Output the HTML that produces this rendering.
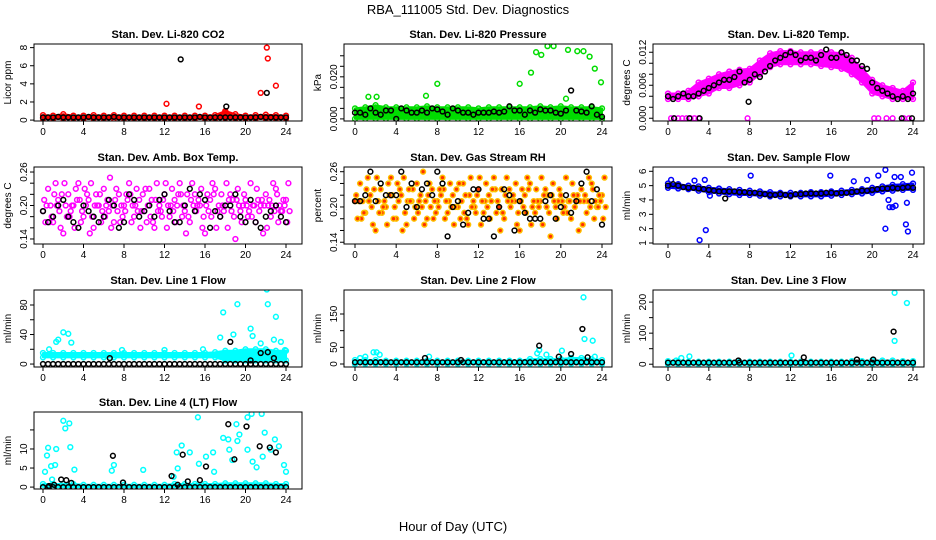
<!DOCTYPE html>
<html><head><meta charset="utf-8">
<style>
html,body{margin:0;padding:0;background:#fff;}
svg{display:block;font-family:"Liberation Sans",Arial,sans-serif;}
.tt{font-size:11px;font-weight:bold;text-anchor:middle;}
.tk{font-size:10px;}
</style></head>
<body>
<svg id="fig" xmlns="http://www.w3.org/2000/svg" width="936" height="540" viewBox="0 0 936 540">
<rect width="936" height="540" fill="#fff"/>
<text x="468" y="14" font-size="13" text-anchor="middle">RBA_111005  Std. Dev. Diagnostics</text>
<text x="453" y="531" font-size="13" text-anchor="middle">Hour of Day (UTC)</text>
</svg>
<script>
// ---------- shared x categories ----------
const hh=[0,0.5,1,1.5,2,2.5,3,3.5,4,4.5,5,5.5,6,6.5,7,7.5,8,8.5,9,9.5,10,10.5,11,11.5,12,12.5,13,13.5,14,14.5,15,15.5,16,16.5,17,17.5,18,18.5,19,19.5,20,20.5,21,21.5,22,22.5,23,23.5,24];
const hw=[0,1,2,3,4,5,6,7,8,9,10,11,12,13,14,15,16,17,18,19,20,21,22,23,24];
const xTicks=[0,4,8,12,16,20,24];

// ---------- P1 CO2 ----------
const co2Lo=[0.15,0.15,0.15,0.15,0.15,0.15,0.15,0.15,0.15,0.15,0.15,0.15,0.15,0.15,0.15,0.15,0.15,0.15,0.2,0.15,0.15,0.15,0.15,0.15,0.15];
const co2Hi=[0.55,0.5,0.65,0.5,0.5,0.55,0.5,0.55,0.5,0.5,0.5,0.5,0.5,0.5,0.5,0.5,0.5,0.55,1.0,0.65,0.5,0.55,0.6,0.55,0.5];
const co2Blk=[0.3,0.3,0.3,0.35,0.3,0.3,0.3,0.3,0.3,0.35,0.3,0.3,0.3,0.3,0.35,0.3,0.3,0.3,0.3,0.3,0.3,0.3,0.3,0.3,0.3,0.3,0.3,0.3,0.3,0.3,0.3,0.35,0.3,0.3,0.3,0.3,0.3,0.3,0.3,0.3,0.3,0.3,0.3,0.35,0.3,0.3,0.3,0.3,0.3];
const co2OutX=[12.2,15.4,18,21.5,22.1,22.2,23];
const co2OutY=[1.8,1.5,0.9,3,8,6.8,3.8];
const co2BOutX=[13.6,18.1,22.1];
const co2BOutY=[6.7,1.5,3];

// ---------- P2 Pressure ----------
const prLo=[0,0,0,0,0,0,0,0,0,0,0,0,0,0,0,0,0,0,0,0,0,0,0,0,0];
const prHi=[0.005,0.0055,0.0065,0.0055,0.0055,0.0055,0.0055,0.006,0.0055,0.0055,0.0055,0.0055,0.005,0.0055,0.0055,0.0055,0.0055,0.0055,0.006,0.0055,0.006,0.0055,0.0055,0.0055,0.005];
const prBlk=[0.003,0.003,0.002,0.005,0.003,0.002,0.004,0.004,0.0,0.005,0.004,0.003,0.003,0.004,0.003,0.005,0.0045,0.0035,0.002,0.005,0.004,0.003,0.003,0.002,0.003,0.003,0.003,0.0035,0.003,0.0035,0.006,0.004,0.004,0.002,0.004,0.003,0.0045,0.004,0.004,0.003,0.0025,0.004,0.0135,0.004,0.0035,0.003,0.006,0.002,0.001];
const prOutX=[1.3,2.1,6.9,8,16,17.1,17.6,18.1,18.7,19.3,20.5,20.7,21.6,22.2,22.8,23.3,23.9];
const prOutY=[0.0105,0.0105,0.011,0.0167,0.0167,0.022,0.0317,0.0304,0.0346,0.0346,0.0096,0.0328,0.0322,0.0322,0.0296,0.0239,0.0174];

// ---------- P3 Temp ----------
const tpLo=[0.0035,0.0035,0.0035,0.004,0.0045,0.0055,0.0055,0.006,0.0065,0.008,0.0093,0.0098,0.0098,0.0098,0.0098,0.0095,0.0093,0.009,0.008,0.0065,0.0045,0.004,0.0035,0.0035,0.0035];
const tpHi=[0.0045,0.0045,0.005,0.0065,0.0072,0.008,0.0085,0.0088,0.009,0.0105,0.0118,0.0122,0.0122,0.012,0.012,0.012,0.012,0.0118,0.011,0.009,0.007,0.006,0.0055,0.005,0.0065];
const tpBlk=[0.004,0.0035,0.004,0.0045,0.004,0.004,0.0045,0.005,0.0055,0.006,0.0065,0.007,0.007,0.0075,0.0085,0.0065,0.007,0.008,0.0075,0.0085,0.0095,0.0105,0.011,0.0115,0.012,0.0115,0.0105,0.011,0.011,0.0105,0.0115,0.0125,0.011,0.011,0.012,0.0115,0.0105,0.0105,0.0095,0.009,0.0065,0.0055,0.005,0.0045,0.004,0.0035,0.004,0.0035,0.0045];
const tpOutX=[0.3,0.6,1,1.4,1.8,2.2,2.6,3,7.8,20.2,20.6,21.4,22,23.1,23.6];
const tpOutY=[0,0,0,0,0,0,0,0,0,0,0,0,0,0,0];
const tpBOutX=[0.6,2.1,3.1,7.9,22.9,23.9];
const tpBOutY=[0,0,0,0.003,0,0];

// ---------- P4 Amb Box Temp ----------
const abA=[0.19,0.23,0.17,0.21,0.15,0.22,0.2,0.24,0.18,0.21,0.16,0.2,0.23,0.19,0.17,0.22,0.2,0.24,0.18,0.21,0.19,0.23,0.16,0.2,0.22,0.18,0.21,0.24,0.19,0.17,0.22,0.2,0.15,0.21,0.23,0.18,0.2,0.22,0.14,0.19,0.21,0.24,0.17,0.2,0.22,0.18,0.23,0.19,0.21];
const abB=[0.21,0.17,0.22,0.19,0.24,0.18,0.16,0.21,0.23,0.15,0.2,0.22,0.18,0.25,0.21,0.17,0.19,0.22,0.2,0.16,0.23,0.18,0.21,0.19,0.24,0.2,0.17,0.22,0.15,0.21,0.19,0.23,0.2,0.18,0.16,0.22,0.24,0.19,0.21,0.17,0.2,0.18,0.23,0.21,0.16,0.2,0.22,0.19,0.17];
const abC=[0.17,0.2,0.24,0.16,0.2,0.19,0.23,0.17,0.2,0.24,0.22,0.17,0.2,0.16,0.23,0.2,0.22,0.17,0.23,0.19,0.17,0.21,0.24,0.18,0.16,0.23,0.2,0.18,0.22,0.24,0.2,0.16,0.22,0.24,0.19,0.2,0.16,0.21,0.23,0.2,0.18,0.2,0.21,0.15,0.2,0.24,0.17,0.21,0.24];
const abD=[0.2,0.18,0.2,0.22,0.18,0.2,0.21,0.19,0.22,0.18,0.2,0.19,0.21,0.2,0.19,0.18,0.21,0.2,0.19,0.22,0.2,0.17,0.19,0.21,0.2,0.19,0.22,0.2,0.18,0.2,0.21,0.18,0.19,0.22,0.2,0.19,0.21,0.18,0.2,0.22,0.19,0.2,0.19,0.2,0.21,0.19,0.2,0.2,0.19];
const abBlk=[0.19,0.17,0.18,0.2,0.21,0.18,0.17,0.16,0.2,0.19,0.18,0.17,0.18,0.21,0.2,0.16,0.17,0.22,0.21,0.18,0.19,0.2,0.18,0.21,0.22,0.19,0.17,0.17,0.2,0.23,0.19,0.22,0.21,0.16,0.19,0.18,0.2,0.2,0.22,0.18,0.17,0.21,0.17,0.16,0.18,0.19,0.2,0.18,0.17];

// ---------- P5 Gas Stream RH ----------
const rhA=[0.21,0.24,0.19,0.22,0.16,0.23,0.2,0.25,0.18,0.22,0.17,0.21,0.24,0.2,0.18,0.23,0.21,0.25,0.19,0.22,0.2,0.24,0.17,0.21,0.23,0.19,0.22,0.25,0.2,0.18,0.23,0.21,0.16,0.22,0.24,0.19,0.21,0.23,0.15,0.2,0.22,0.25,0.18,0.21,0.23,0.19,0.24,0.2,0.22];
const rhB=[0.22,0.18,0.23,0.2,0.25,0.19,0.17,0.22,0.24,0.16,0.21,0.23,0.19,0.26,0.22,0.18,0.2,0.23,0.21,0.17,0.24,0.19,0.22,0.2,0.25,0.21,0.18,0.23,0.16,0.22,0.2,0.24,0.21,0.19,0.17,0.23,0.25,0.2,0.22,0.18,0.21,0.19,0.24,0.22,0.17,0.21,0.23,0.2,0.18];
const rhC=[0.18,0.21,0.25,0.17,0.21,0.2,0.24,0.18,0.21,0.25,0.23,0.18,0.21,0.17,0.24,0.21,0.23,0.18,0.24,0.2,0.18,0.22,0.25,0.19,0.17,0.24,0.21,0.19,0.23,0.25,0.21,0.17,0.23,0.25,0.2,0.21,0.17,0.22,0.24,0.21,0.19,0.21,0.22,0.16,0.21,0.25,0.18,0.22,0.25];
const rhD=[0.21,0.19,0.21,0.23,0.19,0.21,0.22,0.2,0.23,0.19,0.21,0.2,0.22,0.21,0.2,0.19,0.22,0.21,0.2,0.23,0.21,0.18,0.2,0.22,0.21,0.2,0.23,0.21,0.19,0.21,0.22,0.19,0.2,0.23,0.21,0.2,0.22,0.19,0.21,0.23,0.2,0.21,0.2,0.21,0.22,0.2,0.21,0.21,0.2];
const rhBlk=[0.21,0.21,0.22,0.26,0.21,0.24,0.22,0.22,0.22,0.26,0.2,0.24,0.2,0.23,0.24,0.22,0.26,0.24,0.15,0.2,0.21,0.17,0.19,0.23,0.23,0.18,0.18,0.15,0.2,0.23,0.22,0.16,0.21,0.19,0.18,0.18,0.18,0.21,0.22,0.18,0.2,0.22,0.19,0.21,0.24,0.26,0.21,0.23,0.17];

// ---------- P6 Sample Flow ----------
const sfLo=[4.85,4.8,4.75,4.65,4.55,4.45,4.4,4.35,4.35,4.3,4.25,4.25,4.25,4.25,4.25,4.25,4.3,4.35,4.4,4.45,4.5,4.6,4.65,4.7,4.7];
const sfHi=[5.15,5.1,5.0,4.95,4.85,4.8,4.75,4.7,4.65,4.6,4.55,4.5,4.5,4.5,4.55,4.55,4.6,4.65,4.7,4.75,4.85,4.95,5.05,5.1,5.15];
const sfBlk=[5.0,5.1,5.0,4.9,4.85,4.85,4.8,4.75,4.7,4.65,4.6,4.6,4.6,4.6,4.55,4.55,4.5,4.5,4.45,4.4,4.35,4.35,4.4,4.35,4.3,4.4,4.4,4.45,4.45,4.45,4.45,4.5,4.5,4.45,4.5,4.5,4.55,4.6,4.65,4.65,4.7,4.75,4.8,4.8,4.85,4.8,4.85,4.9,4.85];
const sfOutX=[0.3,2.6,3.1,3.6,3.7,4.1,8.1,15.9,18.2,19.5,20.6,21.3,21.3,21.6,21.7,22,22.2,22.3,22.8,23.3,23.4,23.5,23.9];
const sfOutY=[5.4,5.35,1.2,5.4,1.9,4.3,5.7,5.7,5.3,5.4,5.7,6.1,2.0,4.0,3.5,3.5,5.6,3.6,5.6,2.3,3.8,1.8,5.9];
const sfBOutX=[5.6];
const sfBOutY=[4.1];

// ---------- P7 Line 1 Flow ----------
const l1Lo=[9,9,9,9,9,9,9,9,9,9,9,9,9,9,9,9,9,9,5,5,5,5,5,5,5];
const l1Hi=[15,15,15,15,15,15,15,15,15,15,15,15,15,15,15,15,15,16,18,18,20,20,20,18,18];
const l1Blk=[0,0,0,0,0,0,0,0,0,0,0,0,0,0,0,0,0,0,0,0,0,0,0,0,0,0,0,0,0,0,0,0,0,0,0,0,0,0,0,0,0,0,0,0,0,0,0,0,0];
const l1OutX=[0.6,1.3,1.5,2,2.5,2.8,7.8,12,15.8,17.5,17.8,18.8,19.2,20.5,20.7,21.5,22.1,22.2,22.8,23,23.5,23.9];
const l1OutY=[20,30,33,43,41,29,19,19,20,36,70,40,81,48,38,28,101,81,33,64,30,19];
const l1BOutX=[6.6,18.5,20.5,21.5,22.2,22.8];
const l1BOutY=[8,30,5,15,16,8];

// ---------- P8 Line 2 Flow ----------
const l2Lo=[0,0,0,0,0,0,0,0,0,0,0,0,0,0,0,0,0,0,0,0,0,0,0,0,0];
const l2Hi=[12,12,12,10,10,10,10,10,10,10,10,10,10,10,10,10,10,15,15,15,15,18,18,15,12];
const l2Blk=[5,5,5,5,5,5,5,5,5,5,5,5,5,5,5,5,5,5,5,5,5,5,5,5,5,5,5,5,5,5,5,5,5,5,5,5,5,5,5,5,5,5,5,5,5,5,5,5,5];
const l2OutX=[0.5,1,1.8,2.1,2.4,7.2,17.7,17.9,18.6,20.1,22.2,22.3,23.1,23.3];
const l2OutY=[18,22,35,35,28,22,32,42,28,40,200,75,70,22];
const l2BOutX=[6.8,10.3,17.9,19.8,21,22.1,22.6];
const l2BOutY=[18,12,55,22,30,105,20];

// ---------- P9 Line 3 Flow ----------
const l3Lo=[0,0,0,0,0,0,0,0,0,0,0,0,0,0,0,0,0,0,0,0,0,0,0,0,0];
const l3Hi=[10,10,8,8,8,8,8,8,8,8,8,8,8,8,8,8,8,8,10,10,12,12,12,10,10];
const l3Blk=[5,5,5,5,5,5,5,5,5,5,5,5,5,5,5,5,5,5,5,5,5,5,5,5,5,5,5,5,5,5,5,5,5,5,5,5,5,5,5,5,5,5,5,5,5,5,5,5,5];
const l3OutX=[0.8,1.3,2.1,12.1,22.2,22.2,23.4];
const l3OutY=[12,20,25,28,75,230,197];
const l3BOutX=[6.9,13.3,18.5,20.1,22.1];
const l3BOutY=[12,22,15,15,105];

// ---------- P10 Line 4 (LT) Flow ----------
const l4Lo=[0,0,0,0,0,0,0,0,0,0,0,0,0,0,0,0,0,0,0,0,0,0,0,0,0];
const l4Hi=[0.8,0.8,0.8,0.8,0.6,0.6,0.6,0.6,0.6,0.6,0.6,0.6,0.6,0.8,0.8,0.8,0.8,0.8,1,1,1,1,1,0.8,0.8];
const l4Blk=[0,0,0,0,0,0,0,0,0,0,0,0,0,0,0,0,0,0,0,0,0,0,0,0,0,0,0,0,0,0,0,0,0,0,0,0,0,0,0,0,0,0,0,0,0,0,0,0,0];
const l4OutX=[0.2,0.4,0.5,0.8,0.9,1.2,1.3,2,2.2,2.6,2.7,3.1,6.8,7,9.9,12.9,13.2,13.3,13.7,14.5,15.3,15.4,16.1,16.8,16.9,17.8,18.3,18.4,18.7,19.1,19.2,19.4,20.2,20.2,20.6,20.7,21.1,21.6,21.7,21.9,22.5,22.9,23.3,23.8,24];
const l4OutY=[4,8.3,10.3,5.5,2,5.8,10,17.4,15.4,16.7,10.5,4.6,4.3,5.8,4.5,2.7,9.1,4.9,10.9,9.1,18.3,6.1,8,9.1,4,12.9,12.5,9.8,7.1,16.5,12.1,13.8,9.8,18.3,19.2,6.7,5.2,19.2,8,14.3,9.8,12.5,10.7,5.8,4];
const l4BOutX=[0.6,1.1,1.8,2.3,2.8,6.9,7.9,12.7,13.3,13.8,14.3,15.5,16.1,18.3,18.9,20.1,21.4,22.4,23];
const l4BOutY=[0.3,0.6,2,1.8,1.1,8.2,1.2,2.9,0.6,8.5,1.5,1.8,5.4,16.5,7.3,15.9,10.7,10.4,9.1];

// ---------- panel layout ----------
const cols=[{L:34,R:302,x0:43,x24:286},{L:344,R:612,x0:355,x24:602},{L:653,R:924,x0:668,x24:913}];
const rows=[{T:44,B:121},{T:167,B:244},{T:290,B:367},{T:412,B:489}];

const panels=[
 {name:'co2',title:'Stan. Dev. Li-820 CO2',ylab:'Licor ppm',c:0,r:0,lo:-0.1,hi:8.4,ticks:[0,2,4,6,8],labels:['0','2','4','6','8'],color:'#ff0000',fill:'none',
  bandLo:co2Lo,bandHi:co2Hi,scat:[],outX:co2OutX,outY:co2OutY,blk:co2Blk,bX:co2BOutX,bY:co2BOutY},
 {name:'pressure',title:'Stan. Dev. Li-820 Pressure',ylab:'kPa',c:1,r:0,lo:-0.001,hi:0.0356,ticks:[0,0.005,0.01,0.015,0.02,0.025,0.03],labels:['0.000','','','','0.020','',''],color:'#00dd00',fill:'none',
  bandLo:prLo,bandHi:prHi,scat:[],outX:prOutX,outY:prOutY,blk:prBlk,bX:[],bY:[]},
 {name:'temp',title:'Stan. Dev. Li-820 Temp.',ylab:'degrees C',c:2,r:0,lo:-0.0005,hi:0.0135,ticks:[0,0.002,0.004,0.006,0.008,0.01,0.012],labels:['0.000','','','0.006','','','0.012'],color:'#ff00ff',fill:'none',
  bandLo:tpLo,bandHi:tpHi,scat:[],outX:tpOutX,outY:tpOutY,blk:tpBlk,bX:tpBOutX,bY:tpBOutY},
 {name:'amb-box-temp',title:'Stan. Dev. Amb. Box Temp.',ylab:'degrees C',c:0,r:1,lo:0.131,hi:0.269,ticks:[0.14,0.16,0.18,0.2,0.22,0.24,0.26],labels:['0.14','','','0.20','','','0.26'],color:'#ff00ff',fill:'none',
  bandLo:null,bandHi:null,scat:[abA,abB,abC,abD],outX:[],outY:[],blk:abBlk,bX:[],bY:[]},
 {name:'gas-stream-rh',title:'Stan. Dev. Gas Stream RH',ylab:'percent',c:1,r:1,lo:0.137,hi:0.268,ticks:[0.14,0.16,0.18,0.2,0.22,0.24,0.26],labels:['0.14','','','0.20','','','0.26'],color:'#ffc000',fill:'#ff3000',
  bandLo:null,bandHi:null,scat:[rhA,rhB,rhC,rhD],outX:[],outY:[],blk:rhBlk,bX:[],bY:[]},
 {name:'sample-flow',title:'Stan. Dev. Sample Flow',ylab:'ml/min',c:2,r:1,lo:0.93,hi:6.3,ticks:[1,2,3,4,5,6],labels:['1','2','3','4','5','6'],color:'#0000ff',fill:'none',
  bandLo:sfLo,bandHi:sfHi,scat:[],outX:sfOutX,outY:sfOutY,blk:sfBlk,bX:sfBOutX,bY:sfBOutY},
 {name:'line1-flow',title:'Stan. Dev. Line 1 Flow',ylab:'ml/min',c:0,r:2,lo:-4,hi:100.3,ticks:[0,20,40,60,80],labels:['0','','40','','80'],color:'#00ffff',fill:'none',
  bandLo:l1Lo,bandHi:l1Hi,scat:[],outX:l1OutX,outY:l1OutY,blk:l1Blk,bX:l1BOutX,bY:l1BOutY},
 {name:'line2-flow',title:'Stan. Dev. Line 2 Flow',ylab:'ml/min',c:1,r:2,lo:-9,hi:222,ticks:[0,50,100,150],labels:['0','50','','150'],color:'#00ffff',fill:'none',
  bandLo:l2Lo,bandHi:l2Hi,scat:[],outX:l2OutX,outY:l2OutY,blk:l2Blk,bX:l2BOutX,bY:l2BOutY},
 {name:'line3-flow',title:'Stan. Dev. Line 3 Flow',ylab:'ml/min',c:2,r:2,lo:-9,hi:239,ticks:[0,50,100,150,200],labels:['0','','100','','200'],color:'#00ffff',fill:'none',
  bandLo:l3Lo,bandHi:l3Hi,scat:[],outX:l3OutX,outY:l3OutY,blk:l3Blk,bX:l3BOutX,bY:l3BOutY},
 {name:'line4-flow',title:'Stan. Dev. Line 4 (LT) Flow',ylab:'ml/min',c:0,r:3,lo:-0.5,hi:19.7,ticks:[0,5,10,15],labels:['0','5','10',''],color:'#00ffff',fill:'none',
  bandLo:l4Lo,bandHi:l4Hi,scat:[],outX:l4OutX,outY:l4OutY,blk:l4Blk,bX:l4BOutX,bY:l4BOutY}
];

const NS='http://www.w3.org/2000/svg';
const svg=document.getElementById('fig');
function mk(tag,attrs,parent){const e=document.createElementNS(NS,tag);for(const k in attrs)e.setAttribute(k,attrs[k]);parent.appendChild(e);return e;}

panels.forEach(function(p){
  const C=cols[p.c],Rw=rows[p.r];
  const sx=function(h){return C.x0+h*(C.x24-C.x0)/24;};
  const sy=function(v){return Rw.B-(v-p.lo)/(p.hi-p.lo)*(Rw.B-Rw.T);};
  const g=mk('g',{},svg);
  
  
  const clipId='clip-'+p.name;
  const cp=mk('clipPath',{id:clipId},g);
  mk('rect',{x:C.L,y:Rw.T,width:C.R-C.L,height:Rw.B-Rw.T},cp);
  const plot=mk('g',{'clip-path':'url(#'+clipId+')'},g);
  
  
  function dot(x,y,stroke,fill,nm){
    const c=mk('circle',{cx:sx(x).toFixed(1),cy:sy(y).toFixed(1),r:2.4,fill:fill,stroke:stroke,'stroke-width':1.5},plot);
    
    
  }
  if(p.bandLo){
    let pts=hw.map(function(h,i){return sx(h).toFixed(1)+','+sy(p.bandHi[i]).toFixed(1);});
    pts=pts.concat(hw.slice().reverse().map(function(h,j){const i=hw.length-1-j;return sx(h).toFixed(1)+','+sy(p.bandLo[i]).toFixed(1);}));
    const poly=mk('polygon',{points:pts.join(' '),fill:p.color,stroke:p.color,'stroke-width':2,'stroke-linejoin':'round'},plot);
    
    
    hw.forEach(function(h,i){dot(h,p.bandHi[i],p.color,'none',p.name+'-point');dot(h,p.bandLo[i],p.color,'none',p.name+'-point');});
  }
  p.scat.forEach(function(arr,k){
    hh.forEach(function(h,i){dot(h+k*0.12,arr[i],p.color,p.fill,p.name+'-point');});
  });
  p.outX.forEach(function(x,i){dot(x,p.outY[i],p.color,p.fill,p.name+'-outlier');});
  hh.forEach(function(h,i){dot(h,p.blk[i],'#000','none',p.name+'-mean-point');});
  p.bX.forEach(function(x,i){dot(x,p.bY[i],'#000','none',p.name+'-mean-outlier');});
  const fr=mk('rect',{x:C.L,y:Rw.T,width:C.R-C.L,height:Rw.B-Rw.T,fill:'none',stroke:'#000','stroke-width':1},g);
  
  
  const t=mk('text',{x:(C.L+C.R)/2,y:Rw.T-6,class:'tt'},g);
  t.textContent=p.title;
  
  
  const xa=mk('g',{},g);
  
  
  xTicks.forEach(function(v){
    const x=sx(v);
    mk('line',{x1:x,y1:Rw.B,x2:x,y2:Rw.B+4,stroke:'#000'},xa);
    const tx=mk('text',{x:x,y:Rw.B+14,class:'tk','text-anchor':'middle'},xa);
    tx.textContent=String(v);
  });
  const ya=mk('g',{},g);
  
  
  p.ticks.forEach(function(v,i){
    const y=sy(v);
    mk('line',{x1:C.L,y1:y,x2:C.L-4,y2:y,stroke:'#000'},ya);
    if(p.labels[i]){
      const tx=mk('text',{x:C.L-7,y:y,class:'tk','text-anchor':'middle',transform:'rotate(-90 '+(C.L-7)+' '+y+')'},ya);
      tx.textContent=p.labels[i];
    }
  });
  const yl=mk('text',{x:C.L-23,y:(Rw.T+Rw.B)/2,class:'tk','text-anchor':'middle',transform:'rotate(-90 '+(C.L-23)+' '+(Rw.T+Rw.B)/2+')'},g);
  yl.textContent=p.ylab;
  
  
});
</script>
</body></html>
